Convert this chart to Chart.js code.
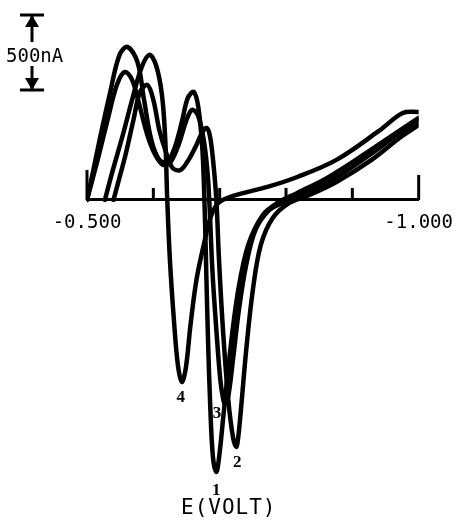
<!DOCTYPE html>
<html>
<head>
<meta charset="utf-8">
<script src="https://cdn.jsdelivr.net/npm/chart.js@4.4.0/dist/chart.umd.min.js"></script>
<style>
  body { margin: 0; background: #fff; }
  #wrap { position: relative; width: 465px; height: 522px; }
  canvas { position: absolute; left: 0; top: 0; }
  .lbl { position: absolute; font-family: 'DejaVu Sans Mono', monospace; color: #000; white-space: nowrap; }
</style>
</head>
<body>
<div id="wrap">
  <canvas id="cv" width="465" height="522"></canvas>
  <div class="lbl" style="left:6px; top:44px; font-size:19px;">500nA</div>
  <div class="lbl" style="left:181px; top:495px; font-size:21px; letter-spacing:1px;">E(VOLT)</div>
</div>
<script>
// potential in V, current in nA (up = positive); each trace swept from -0.5 V to -1.0 V
const curve1Volts = [-0.500, -0.509, -0.519, -0.534, -0.549, -0.561, -0.576, -0.586, -0.597, -0.609,
  -0.621, -0.632, -0.643, -0.652, -0.661, -0.668, -0.674, -0.677, -0.679, -0.682, -0.686, -0.690,
  -0.695, -0.699, -0.705, -0.716, -0.728, -0.743, -0.765, -0.787, -0.817, -0.862, -0.921, -0.966, -1.000];
const curve1Current = [0, 187, 400, 700, 967, 1020, 920, 667, 400, 267,
  253, 347, 520, 680, 720, 613, 333, 0, -333, -867, -1400, -1720,
  -1813, -1720, -1467, -1000, -600, -300, -100, -20, 47, 147, 313, 447, 547];

const curve2Volts = [-0.540, -0.546, -0.558, -0.570, -0.580, -0.591, -0.600, -0.609, -0.618, -0.629,
  -0.641, -0.653, -0.665, -0.674, -0.680, -0.685, -0.690, -0.695, -0.699, -0.705, -0.713, -0.720,
  -0.725, -0.728, -0.732, -0.740, -0.750, -0.762, -0.780, -0.805, -0.832, -0.876, -0.929, -0.973, -1.000];
const curve2Current = [0, 100, 300, 533, 720, 767, 667, 467, 333, 213,
  200, 267, 367, 453, 480, 433, 267, 0, -400, -867, -1333, -1580,
  -1647, -1580, -1400, -1000, -600, -300, -120, -20, 27, 120, 267, 420, 500];

const curve3Volts = [-0.500, -0.516, -0.531, -0.545, -0.557, -0.568, -0.579, -0.591, -0.603, -0.615,
  -0.626, -0.638, -0.649, -0.658, -0.667, -0.676, -0.682, -0.685, -0.689, -0.695, -0.701, -0.705,
  -0.708, -0.713, -0.720, -0.729, -0.740, -0.754, -0.775, -0.798, -0.824, -0.869, -0.924, -0.969, -1.000];
const curve3Current = [0, 267, 533, 767, 853, 800, 633, 433, 300, 233,
  253, 367, 520, 600, 567, 400, 167, -67, -467, -867, -1200, -1320,
  -1360, -1307, -1067, -733, -433, -200, -67, -13, 40, 133, 293, 440, 533];

const curve4Volts = [-0.527, -0.539, -0.554, -0.568, -0.582, -0.594, -0.604, -0.613, -0.618, -0.621,
  -0.625, -0.631, -0.637, -0.643, -0.649, -0.656, -0.665, -0.676, -0.686, -0.698, -0.720, -0.772,
  -0.817, -0.876, -0.940, -0.976, -1.000];
const curve4Current = [0, 200, 433, 667, 880, 967, 900, 700, 400, 0,
  -400, -800, -1100, -1213, -1120, -833, -533, -300, -120, -20, 27, 87,
  153, 267, 460, 580, 587];

const peakLabels = ['1', '2', '3', '4'];
const xTickLabels = { '-0.5': '-0.500', '-1': '-1.000' };
const scaleBarTop = 1233;   // nA
const scaleBarSpan = 500;   // nA

const curves = [
  [curve1Volts, curve1Current],
  [curve2Volts, curve2Current],
  [curve3Volts, curve3Current],
  [curve4Volts, curve4Current],
];
const labelOffsets = [[0, 19], [1, 16], [-8, 10], [-1, 16]];

const datasets = curves.map(([v, c], k) => ({
  label: peakLabels[k],
  data: v.map((e, j) => ({ x: e, y: c[j] })),
  borderColor: '#000',
  borderWidth: 4.5,
  pointRadius: 0,
  tension: 0.35,
  fill: false,
  borderJoinStyle: 'round',
  borderCapStyle: 'round',
}));

const decor = {
  id: 'decor',
  beforeDatasetsDraw(chart) {
    const ctx = chart.ctx, xs = chart.scales.x, ys = chart.scales.y;
    const y0 = ys.getPixelForValue(0);
    ctx.save();
    ctx.strokeStyle = '#000';
    ctx.lineWidth = 3;
    xs.ticks.forEach((t, i) => {
      const px = xs.getPixelForValue(t.value);
      let len = 12;
      if (i === 0) len = 30;
      if (i === xs.ticks.length - 1) len = 25;
      ctx.beginPath();
      ctx.moveTo(px, y0);
      ctx.lineTo(px, y0 - len);
      ctx.stroke();
    });
    ctx.restore();
  },
  afterDraw(chart) {
    const ctx = chart.ctx, ys = chart.scales.y, xs = chart.scales.x;
    const top = ys.getPixelForValue(scaleBarTop);
    const bot = ys.getPixelForValue(scaleBarTop - scaleBarSpan);
    const cx = 32;
    ctx.save();
    ctx.strokeStyle = '#000';
    ctx.fillStyle = '#000';
    ctx.lineWidth = 3;
    ctx.beginPath();
    ctx.moveTo(20, top); ctx.lineTo(44, top);
    ctx.moveTo(cx, top); ctx.lineTo(cx, top + 27);
    ctx.moveTo(cx, bot - 24); ctx.lineTo(cx, bot);
    ctx.moveTo(20, bot); ctx.lineTo(44, bot);
    ctx.stroke();
    ctx.beginPath();
    ctx.moveTo(cx, top); ctx.lineTo(cx - 7, top + 12); ctx.lineTo(cx + 7, top + 12); ctx.closePath();
    ctx.moveTo(cx, bot); ctx.lineTo(cx - 7, bot - 12); ctx.lineTo(cx + 7, bot - 12); ctx.closePath();
    ctx.fill();

    // peak numbers under the stripping minima
    ctx.font = 'bold 17px "Liberation Serif"';
    ctx.textAlign = 'center';
    ctx.textBaseline = 'middle';
    curves.forEach(([v, c], k) => {
      let m = 0;
      c.forEach((val, j) => { if (val < c[m]) m = j; });
      const px = xs.getPixelForValue(v[m]) + labelOffsets[k][0];
      const py = ys.getPixelForValue(c[m]) + labelOffsets[k][1];
      ctx.fillText(peakLabels[k], px, py);
    });
    ctx.restore();
  }
};

new Chart(document.getElementById('cv'), {
  type: 'line',
  data: { datasets },
  options: {
    responsive: false,
    animation: false,
    layout: { padding: { left: 87, right: 42, top: 0, bottom: 0 } },
    plugins: { legend: { display: false }, tooltip: { enabled: false } },
    scales: {
      x: {
        type: 'linear',
        min: -1.0,
        max: -0.5,
        reverse: true,
        position: { y: 0 },
        grid: { display: false, drawTicks: false },
        border: { display: true, color: '#000', width: 3 },
        ticks: {
          stepSize: 0.1,
          autoSkip: false,
          maxRotation: 0,
          padding: 12,
          color: '#000',
          font: { family: 'DejaVu Sans Mono', size: 19 },
          callback: (val) => xTickLabels[String(Math.round(val * 10) / 10)] || '',
        },
      },
      y: {
        display: false,
        min: -2147,
        max: 1333,
      },
    },
  },
  plugins: [decor],
});
</script>
</body>
</html>
